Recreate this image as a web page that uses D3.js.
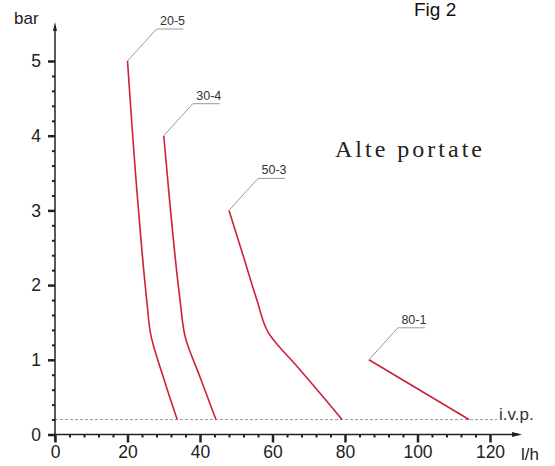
<!DOCTYPE html>
<html>
<head>
<meta charset="utf-8">
<script src="https://cdn.jsdelivr.net/npm/d3@7"></script>
<style>
  body { margin: 0; background: #fff; }
  svg { display: block; font-family: "Liberation Sans", Arial, sans-serif; }
</style>
</head>
<body>
<div id="chart"></div>
<script>
// curve names and their points (flow l/h, pressure bar)
const curveNames = ["20-5", "30-4", "50-3", "80-1"];
const flow205 = [20, 22.8, 25.3, 26.4, 29.8, 33.7];
const bar205  = [5, 3.14, 1.8, 1.34, 0.78, 0.2];
const flow304 = [30, 31.6, 34.5, 35.9, 40.0, 44.4];
const bar304  = [4, 3.14, 1.8, 1.31, 0.77, 0.2];
const flow503 = [48, 52, 55.7, 58.9, 66.8, 72.3, 79.2];
const bar503  = [3, 2.38, 1.8, 1.36, 0.91, 0.6, 0.2];
const flow801 = [86.6, 114.2];
const bar801  = [1, 0.2];

const xTicks = [0, 20, 40, 60, 80, 100, 120];
const yTicks = [0, 1, 2, 3, 4, 5];
const ivp = 0.2;

const W = 555, H = 466;

const svg = d3.select("#chart").append("svg")
    .attr("width", W)
    .attr("height", H);

const x = d3.scaleLinear().domain([0, 120]).range([55, 490]);
const y = d3.scaleLinear().domain([0, 5]).range([434.5, 61]);

const series = [
    { name: curveNames[0], pts: flow205.map((f, i) => [f, bar205[i]]) },
    { name: curveNames[1], pts: flow304.map((f, i) => [f, bar304[i]]) },
    { name: curveNames[2], pts: flow503.map((f, i) => [f, bar503[i]]) },
    { name: curveNames[3], pts: flow801.map((f, i) => [f, bar801[i]]) }
];

// i.v.p. dashed line
svg.append("line")
    .attr("x1", x(0)).attr("x2", 497)
    .attr("y1", y(ivp)).attr("y2", y(ivp))
    .attr("stroke", "#9a9a9a")
    .attr("stroke-width", 1)
    .attr("stroke-dasharray", "3,2");

svg.append("text")
    .attr("x", 499).attr("y", 420)
    .attr("font-size", "17px")
    .attr("fill", "#333")
    .text("i.v.p.");

// minor ticks
const xMinor = d3.range(0, 121, 4).filter(v => v % 20 !== 0);
const yMinor = d3.range(0, 26).map(i => i / 5).filter(v => Math.abs(v - Math.round(v)) > 1e-6);

svg.append("g")
    .attr("class", "x-minor")
    .attr("transform", `translate(0,${y(0)})`)
    .call(d3.axisBottom(x).tickValues(xMinor).tickSize(3).tickSizeOuter(0).tickFormat(""))
    .call(g => g.select(".domain").remove())
    .selectAll("line").attr("stroke", "#222").attr("stroke-width", 2);

svg.append("g")
    .attr("class", "y-minor")
    .attr("transform", `translate(${x(0)},0)`)
    .call(d3.axisLeft(y).tickValues(yMinor).tickSize(3).tickSizeOuter(0).tickFormat(""))
    .call(g => g.select(".domain").remove())
    .selectAll("line").attr("stroke", "#222").attr("stroke-width", 2);

// major ticks
const xAxis = svg.append("g")
    .attr("class", "x-axis")
    .attr("transform", `translate(0,${y(0)})`)
    .call(d3.axisBottom(x).tickValues(xTicks).tickSize(8).tickPadding(3).tickSizeOuter(0).tickFormat(d3.format("d")))
    .call(g => g.select(".domain").remove());
xAxis.selectAll("line").attr("stroke", "#222").attr("stroke-width", 2.5);
xAxis.selectAll("text")
    .attr("font-size", "17.5px")
    .attr("fill", "#222")
    .attr("font-family", "Liberation Sans, Arial, sans-serif");

const yAxis = svg.append("g")
    .attr("class", "y-axis")
    .attr("transform", `translate(${x(0)},0)`)
    .call(d3.axisLeft(y).tickValues(yTicks).tickSize(7).tickPadding(7).tickSizeOuter(0).tickFormat(d3.format("d")))
    .call(g => g.select(".domain").remove());
yAxis.selectAll("line").attr("stroke", "#222").attr("stroke-width", 2.5);
yAxis.selectAll("text")
    .attr("font-size", "17.5px")
    .attr("fill", "#222")
    .attr("font-family", "Liberation Sans, Arial, sans-serif");

// axis lines with arrows
svg.append("line")
    .attr("x1", x(0) - 1).attr("x2", 519)
    .attr("y1", y(0)).attr("y2", y(0))
    .attr("stroke", "#222").attr("stroke-width", 1.5);
svg.append("path")
    .attr("d", `M522,${y(0)} L512,${y(0) - 2.5} L512,${y(0) + 2.5} Z`)
    .attr("fill", "#222");

svg.append("line")
    .attr("x1", x(0)).attr("x2", x(0))
    .attr("y1", y(0) + 7).attr("y2", 26)
    .attr("stroke", "#222").attr("stroke-width", 1.5);
svg.append("path")
    .attr("d", `M${x(0)},22 L${x(0) - 2},31 L${x(0) + 2},31 Z`)
    .attr("fill", "#222");

// axis titles
svg.append("text")
    .attr("x", 14).attr("y", 24)
    .attr("font-size", "17px")
    .attr("fill", "#222")
    .text("bar");

svg.append("text")
    .attr("x", 521).attr("y", 460)
    .attr("font-size", "17px")
    .attr("fill", "#222")
    .text("l/h");

// curves
const line = d3.line()
    .x(d => x(d[0]))
    .y(d => y(d[1]))
    .curve(d3.curveMonotoneY);

svg.selectAll(".curve")
    .data(series)
    .join("path")
    .attr("class", "curve")
    .attr("d", d => line(d.pts))
    .attr("fill", "none")
    .attr("stroke", "#cc2139")
    .attr("stroke-width", 1.6);

// leader labels
const labels = svg.selectAll(".lbl")
    .data(series)
    .join("g")
    .attr("class", "lbl")
    .attr("transform", d => `translate(${x(d.pts[0][0])},${y(d.pts[0][1])})`);

labels.append("path")
    .attr("d", "M0,0 L29,-32 L56,-32")
    .attr("fill", "none")
    .attr("stroke", "#9a9a9a")
    .attr("stroke-width", 1);

labels.append("text")
    .attr("x", 45).attr("y", -36)
    .attr("text-anchor", "middle")
    .attr("font-size", "12.5px")
    .attr("fill", "#333")
    .text(d => d.name);

// titles
svg.append("text")
    .attr("x", 414).attr("y", 16)
    .attr("font-size", "19px")
    .attr("font-family", "Liberation Sans Narrow, Arial Narrow, sans-serif")
    .attr("fill", "#111")
    .text("Fig 2");

svg.append("text")
    .attr("x", 335).attr("y", 157)
    .attr("font-size", "24px")
    .attr("font-family", "Liberation Serif, Times New Roman, serif")
    .attr("letter-spacing", "3px")
    .attr("fill", "#222")
    .text("Alte portate");
</script>
</body>
</html>
